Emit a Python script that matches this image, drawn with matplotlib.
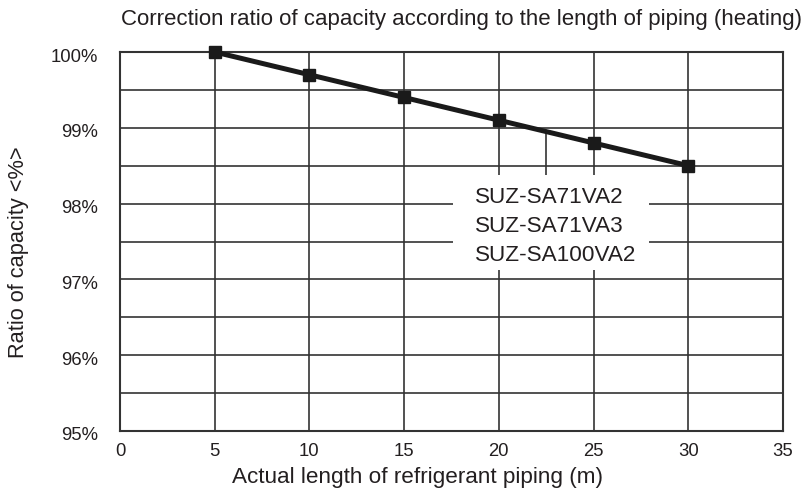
import numpy as np
import matplotlib.pyplot as plt
from matplotlib.patches import Rectangle
from matplotlib.transforms import ScaledTranslation

plt.rcParams['font.family'] = ['Liberation Sans', 'DejaVu Sans']

length_m = [5, 10, 15, 20, 25, 30]
ratio_pct = [100.0, 99.7, 99.4, 99.1, 98.8, 98.5]
models = ["SUZ-SA71VA2", "SUZ-SA71VA3", "SUZ-SA100VA2"]

txt = '#231f20'
W, H = 808, 497
fig = plt.figure(figsize=(W / 100, H / 100), dpi=100)
ax = fig.add_axes([120/W, 1 - 431/H, 663/W, 379/H])

ax.set_xlim(0, 35)
ax.set_ylim(95, 100)
ax.set_xticks(np.arange(0, 36, 5))
yt = np.arange(95, 100.1, 0.5)
ax.set_yticks(yt)
ax.set_yticklabels(['%d%%' % v if v == int(v) else '' for v in yt])
ax.grid(True, color='#333333', linewidth=1.2, zorder=1)
ax.tick_params(length=0, labelsize=13.3, colors=txt)
ax.tick_params(axis='y', pad=16)
ax.tick_params(axis='x', pad=9)
for lab in ax.get_yticklabels():
    lab.set_transform(lab.get_transform() + ScaledTranslation(0, -3/100, fig.dpi_scale_trans))
for s in ax.spines.values():
    s.set_color('#333333')
    s.set_linewidth(1.5)

ax.plot(length_m, ratio_pct, color='#1a1a1a', linewidth=3.6, marker='s',
        markersize=8, zorder=4, clip_on=False)

# leader line to the model label, white box behind the label hides the grid
ax.plot([22.5, 22.5], [98.95, 98.0], color='#333333', linewidth=1.2, zorder=2)
ax.add_patch(Rectangle((17.6, 97.12), 10.3, 1.26, facecolor='white',
                       edgecolor='none', zorder=2.5))
ax.text(18.75, 97.70, "\n".join(models), ha='left', va='center', fontsize=16.2,
        color=txt, linespacing=1.5, zorder=3)

fig.text(417/W, 1 - 478/H, "Actual length of refrigerant piping (m)",
         ha='center', va='center', fontsize=16.2, color=txt)
fig.text(19/W, 1 - 252/H, "Ratio of capacity <%>", rotation=90,
         ha='center', va='center', fontsize=15.7, color=txt)
fig.text(462/W, 1 - 20/H, "Correction ratio of capacity according to the length of piping (heating)",
         ha='center', va='center', fontsize=16, color=txt)

fig.savefig("out.png", dpi=100)
